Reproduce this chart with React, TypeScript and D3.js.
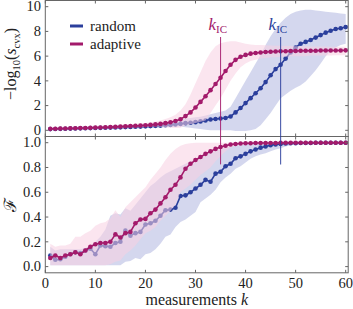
import * as d3 from 'd3';

// measurement counts k = 1..60
const K = d3.range(1, 61);

// top panel: -log10(s_cvx)
const topRandom = [0.1,0.11,0.12,0.13,0.14,0.15,0.16,0.17,0.18,0.19,0.2,0.21,0.22,0.23,0.24,0.26,0.27,0.29,0.3,0.32,0.34,0.36,0.38,0.41,0.44,0.48,0.52,0.58,0.61,0.66,0.72,0.8,0.88,0.92,0.95,1.0,1.12,1.45,1.8,2.2,2.6,3.0,3.4,3.9,4.45,4.95,5.3,5.8,6.3,6.7,7.0,7.15,7.3,7.5,7.7,7.9,8.05,8.2,8.25,8.35];
const topRandomLo = [0.03,0.04,0.05,0.05,0.06,0.07,0.08,0.08,0.09,0.1,0.1,0.11,0.12,0.12,0.13,0.14,0.15,0.16,0.17,0.18,0.19,0.2,0.22,0.24,0.27,0.3,0.3,0.25,0.2,0.15,0.1,0.05,0.0,0.0,0.0,0.0,0.0,-0.05,-0.05,-0.05,0.0,0.1,0.4,0.9,1.4,2.0,2.6,2.9,3.2,3.45,3.65,3.95,4.4,4.85,5.4,6.0,6.45,6.7,6.9,7.0];
const topRandomHi = [0.18,0.19,0.2,0.21,0.22,0.23,0.25,0.26,0.27,0.29,0.3,0.32,0.33,0.35,0.36,0.38,0.4,0.42,0.44,0.46,0.49,0.52,0.56,0.6,0.68,0.8,0.85,0.95,1.0,1.05,1.1,1.2,1.3,1.4,1.5,1.6,1.9,2.6,3.3,4.0,4.7,5.4,6.1,6.9,7.6,8.2,8.7,9.1,9.4,9.6,9.7,9.75,9.75,9.7,9.65,9.6,9.55,9.5,9.45,9.4];
const topAdaptive = [0.12,0.13,0.14,0.15,0.16,0.17,0.18,0.19,0.2,0.22,0.23,0.25,0.26,0.28,0.3,0.32,0.34,0.36,0.38,0.41,0.44,0.48,0.52,0.58,0.65,0.75,0.9,1.15,1.45,1.85,2.3,2.75,3.25,3.75,4.25,4.8,5.3,5.7,5.95,6.1,6.2,6.25,6.3,6.33,6.36,6.38,6.4,6.4,6.42,6.42,6.43,6.43,6.44,6.44,6.45,6.45,6.45,6.46,6.46,6.47];
const topAdaptiveLo = [0.04,0.05,0.06,0.07,0.08,0.09,0.1,0.11,0.12,0.13,0.14,0.15,0.16,0.17,0.19,0.2,0.22,0.23,0.25,0.27,0.29,0.3,0.28,0.25,0.2,0.18,0.2,0.4,0.5,0.6,0.7,0.8,1.4,2.0,2.6,3.3,4.0,4.6,5.1,5.4,5.6,5.7,5.8,5.85,5.9,5.9,5.95,5.95,6.0,6.0,6.0,6.0,6.05,6.05,6.05,6.05,6.05,6.07,6.07,6.07];
const topAdaptiveHi = [0.22,0.23,0.24,0.25,0.26,0.27,0.28,0.3,0.31,0.33,0.35,0.37,0.39,0.41,0.44,0.47,0.5,0.53,0.56,0.6,0.65,0.72,0.8,0.92,1.05,1.25,1.6,2.1,2.9,3.8,4.7,5.6,6.3,6.8,7.05,7.15,7.2,7.2,7.1,7.0,6.95,6.9,6.9,6.88,6.86,6.85,6.84,6.83,6.82,6.8,6.8,6.8,6.78,6.78,6.77,6.77,6.76,6.76,6.75,6.75];

// bottom panel: fidelity F
const botRandom = [0.09,0.055,0.06,0.08,0.1,0.115,0.11,0.13,0.145,0.1,0.17,0.165,0.16,0.19,0.2,0.29,0.25,0.27,0.28,0.34,0.35,0.37,0.41,0.455,0.46,0.475,0.57,0.575,0.6,0.63,0.66,0.7,0.685,0.75,0.765,0.81,0.83,0.875,0.89,0.91,0.93,0.945,0.96,0.97,0.98,0.985,0.99,0.993,0.995,0.996,0.997,0.998,0.998,0.999,0.999,1.0,1.0,1.0,1.0,1.0];
const botRandomLo = [0.01,0.01,0.01,0.01,0.01,0.01,0.01,0.01,0.01,0.01,0.01,0.01,0.01,0.01,0.01,0.04,0.045,0.07,0.06,0.1,0.11,0.14,0.185,0.24,0.26,0.32,0.36,0.38,0.41,0.44,0.52,0.55,0.58,0.62,0.68,0.72,0.75,0.79,0.81,0.84,0.87,0.89,0.905,0.915,0.93,0.945,0.955,0.97,0.98,0.985,0.99,0.99,0.992,0.994,0.995,0.996,0.997,0.998,0.998,0.998];
const botRandomHi = [0.16,0.13,0.14,0.14,0.14,0.14,0.14,0.15,0.17,0.2,0.24,0.3,0.41,0.43,0.42,0.47,0.45,0.5,0.55,0.6,0.65,0.68,0.72,0.75,0.77,0.79,0.81,0.83,0.85,0.87,0.89,0.91,0.93,0.94,0.95,0.96,0.97,0.975,0.98,0.985,0.99,0.995,1.0,1.0,1.0,1.0,1.0,1.0,1.0,1.0,1.0,1.0,1.0,1.0,1.0,1.0,1.0,1.0,1.0,1.0];
const botAdaptive = [0.07,0.09,0.07,0.09,0.1,0.115,0.1,0.13,0.16,0.18,0.19,0.19,0.2,0.26,0.235,0.27,0.28,0.35,0.38,0.385,0.43,0.46,0.51,0.56,0.62,0.66,0.72,0.79,0.83,0.86,0.885,0.91,0.93,0.95,0.965,0.975,0.985,0.99,0.993,0.995,0.996,0.997,0.997,0.998,0.998,0.998,0.999,0.999,0.999,0.999,1.0,1.0,1.0,1.0,1.0,1.0,1.0,1.0,1.0,1.0];
const botAdaptiveLo = [0.01,0.01,0.01,0.01,0.01,0.01,0.01,0.01,0.01,0.01,0.01,0.01,0.02,0.04,0.05,0.1,0.13,0.17,0.22,0.27,0.29,0.32,0.37,0.41,0.45,0.5,0.6,0.63,0.66,0.7,0.74,0.77,0.8,0.85,0.89,0.93,0.96,0.975,0.985,0.99,0.99,0.99,0.992,0.992,0.994,0.994,0.995,0.995,0.995,0.996,0.996,0.996,0.997,0.997,0.997,0.998,0.998,0.998,0.998,0.998];
const botAdaptiveHi = [0.185,0.16,0.17,0.17,0.185,0.24,0.24,0.27,0.29,0.33,0.35,0.36,0.39,0.455,0.4,0.48,0.52,0.56,0.6,0.64,0.7,0.75,0.8,0.86,0.91,0.95,0.975,0.99,0.995,1.0,1.0,1.0,1.0,1.0,1.0,1.0,1.0,1.0,1.0,1.0,1.0,1.0,1.0,1.0,1.0,1.0,1.0,1.0,1.0,1.0,1.0,1.0,1.0,1.0,1.0,1.0,1.0,1.0,1.0,1.0];

// k_IC markers: k, top-panel start value, bottom-panel end value
const kIC = [
  { k: 35, top: 7.55, bottom: 0.825, key: 'adaptive' },
  { k: 47, top: 7.55, bottom: 0.825, key: 'random' },
];

const xTicks = [0, 10, 20, 30, 40, 50, 60];
const topTicks = [0, 2, 4, 6, 8, 10];
const botTicks = [0, 0.2, 0.4, 0.6, 0.8, 1.0];

const BLUE = '#2b3f9c';
const MAG = '#a31a6b';
const COLORS: Record<string, string> = { random: BLUE, adaptive: MAG };
const FONT = 'Liberation Serif, serif';
const AXIS = '#666';
const INK = '#222';

const x = d3.scaleLinear().domain([0, 60.5]).range([45.3, 348.2]);
const yTop = d3.scaleLinear().domain([-0.5, 10.5]).range([136.5, 0.5]);
const yBot = d3.scaleLinear().domain([-0.05, 1.05]).range([272.8, 136.5]);

type Series = { mean: number[]; lo: number[]; hi: number[] };

function Panel({ y, random, adaptive, ticks, fmt, id, xLabels }: {
  y: d3.ScaleLinear<number, number>; random: Series; adaptive: Series;
  ticks: number[]; fmt: (v: number) => string; id: string; xLabels: boolean;
}) {
  const [x0, x1] = x.range();
  const [yb, yt] = y.range();
  const area = (s: Series) => d3.area<number>()
    .x(k => x(k))
    .y0((_, i) => y(s.lo[i]))
    .y1((_, i) => y(s.hi[i]))(K) || '';
  const line = (s: Series) => d3.line<number>()
    .x(k => x(k))
    .y((_, i) => y(s.mean[i]))(K) || '';
  const dots = (s: Series, color: string) => K.map((k, i) => (
    <circle key={k} cx={x(k)} cy={y(s.mean[i])} r={2.3} fill={color} />
  ));
  return (
    <g>
      <clipPath id={id}><rect x={x0} y={yt} width={x1 - x0} height={yb - yt} /></clipPath>
      <g clipPath={`url(#${id})`}>
        <path d={area(random)} fill="#aab0dd" fillOpacity={0.5} />
        <path d={line(random)} fill="none" stroke={BLUE} strokeWidth={1.6} />
        {dots(random, BLUE)}
        <path d={area(adaptive)} fill="#f8cfe2" fillOpacity={0.55} />
        <path d={line(adaptive)} fill="none" stroke={MAG} strokeWidth={1.6} />
        {dots(adaptive, MAG)}
      </g>
      <rect x={x0} y={yt} width={x1 - x0} height={yb - yt} fill="none" stroke={AXIS} strokeWidth={1} />
      {ticks.map(t => (
        <g key={t}>
          <line x1={x0} x2={x0 + 3} y1={y(t)} y2={y(t)} stroke={AXIS} />
          <line x1={x1} x2={x1 - 3} y1={y(t)} y2={y(t)} stroke={AXIS} />
          <text x={41} y={y(t)} dy="0.33em" textAnchor="end" fontSize={14.5} fontFamily={FONT} fill={INK}>{fmt(t)}</text>
        </g>
      ))}
      {xTicks.map(t => (
        <g key={t}>
          <line x1={x(t)} x2={x(t)} y1={yb} y2={yb - 3} stroke={AXIS} />
          <line x1={x(t)} x2={x(t)} y1={yt} y2={yt + 3} stroke={AXIS} />
          {xLabels && (
            <text x={x(t)} y={yb + 15.5} textAnchor="middle" fontSize={14.5} fontFamily={FONT} fill={INK}>{t}</text>
          )}
        </g>
      ))}
    </g>
  );
}

export default function App() {
  return (
    <svg width={353} height={309} style={{ position: 'absolute', left: 0, top: 0, background: '#fff' }}>
      <Panel y={yTop} id="clipTop" xLabels={false} ticks={topTicks} fmt={v => String(v)}
        random={{ mean: topRandom, lo: topRandomLo, hi: topRandomHi }}
        adaptive={{ mean: topAdaptive, lo: topAdaptiveLo, hi: topAdaptiveHi }} />
      <Panel y={yBot} id="clipBot" xLabels={true} ticks={botTicks} fmt={v => v.toFixed(1)}
        random={{ mean: botRandom, lo: botRandomLo, hi: botRandomHi }}
        adaptive={{ mean: botAdaptive, lo: botAdaptiveLo, hi: botAdaptiveHi }} />

      {kIC.map(d => (
        <g key={d.key}>
          <line x1={x(d.k)} x2={x(d.k)} y1={yTop(d.top)} y2={yBot(d.bottom)}
            stroke={COLORS[d.key]} strokeWidth={1.1} strokeOpacity={0.85} />
          <text x={x(d.k) - 12} y={30} fill={COLORS[d.key]} fontFamily={FONT}>
            <tspan fontStyle="italic" fontSize={17}>k</tspan>
            <tspan fontSize={11} dy={3}>IC</tspan>
          </text>
        </g>
      ))}

      {/* legend */}
      {(['random', 'adaptive'] as const).map((name, i) => (
        <g key={name}>
          <line x1={70} x2={83} y1={26 + i * 18} y2={26 + i * 18} stroke={COLORS[name]} strokeWidth={3} />
          <text x={90} y={31 + i * 18} fontSize={15} fontFamily={FONT} fill={INK}>{name}</text>
        </g>
      ))}

      {/* axis labels */}
      <text transform="translate(16,64) rotate(-90)" textAnchor="middle" fontSize={16} fontFamily={FONT} fill={INK}>
        −log<tspan fontSize={10.5} dy={4}>10</tspan><tspan dy={-4}>(</tspan><tspan fontStyle="italic">s</tspan><tspan fontSize={10.5} dy={4}>cvx</tspan><tspan dy={-4}>)</tspan>
      </text>
      <text transform="translate(16,205) rotate(-90)" textAnchor="middle" fontSize={17} fontFamily="DejaVu Serif, serif" fill={INK}>ℱ</text>
      <text x={196.8} y={305} textAnchor="middle" fontSize={16} fontFamily={FONT} fill={INK}>
        measurements <tspan fontStyle="italic">k</tspan>
      </text>
    </svg>
  );
}
